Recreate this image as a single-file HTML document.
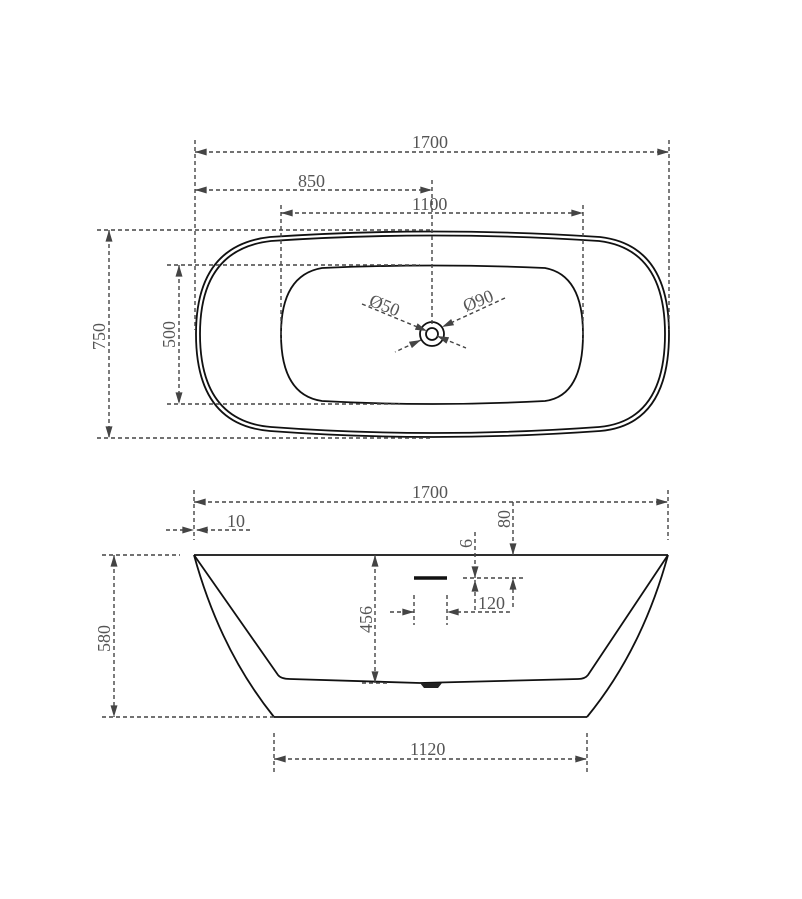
<!DOCTYPE html>
<html><head><meta charset="utf-8"><style>
html,body{margin:0;padding:0;background:#fff}
svg{display:block}
text{font-family:"Liberation Serif",serif;font-size:18px;fill:#555}
.d{stroke:#444;stroke-width:1.4;stroke-dasharray:4,3;fill:none}
.o{stroke:#111;stroke-width:1.8;fill:none}
</style></head><body>
<svg width="802" height="899" viewBox="0 0 802 899" xmlns="http://www.w3.org/2000/svg">
<defs>
<marker id="a" viewBox="0 0 10 6" refX="10" refY="3" markerWidth="16" markerHeight="7" markerUnits="userSpaceOnUse" orient="auto-start-reverse"><path d="M0,0L10,3L0,6Z" fill="#444"/></marker>
</defs>
<!-- TOP VIEW -->
<path class="o" d="M270,237 Q432,226 600,237 Q669,245 669,334 Q669,425 600,431 Q432,443 270,431 Q196,425 196,334 Q196,245 270,237Z"/>
<path class="o" stroke-width="1.2" d="M271,241 Q432,230 599,241 Q665,249 665,334 Q665,421 599,427 Q432,439 271,427 Q200,421 200,334 Q200,249 271,241Z"/>
<path class="o" stroke-width="1.5" d="M322,268 Q432,263 545,268 Q583,275 583,334 Q583,396 545,401 Q432,407 322,401 Q281,395 281,334 Q281,275 322,268Z"/>
<circle cx="432" cy="334" r="12" class="o"/>
<circle cx="432" cy="334" r="6" class="o" stroke-width="1.2"/>
<line class="d" x1="195" y1="140" x2="195" y2="330"/>
<line class="d" x1="669" y1="140" x2="669" y2="330"/>
<line class="d" x1="195" y1="152" x2="669" y2="152" marker-start="url(#a)" marker-end="url(#a)"/>
<text x="412" y="148">1700</text>
<line class="d" x1="432" y1="180" x2="432" y2="325"/>
<line class="d" x1="195" y1="190" x2="432" y2="190" marker-start="url(#a)" marker-end="url(#a)"/>
<text x="298" y="187">850</text>
<line class="d" x1="281" y1="205" x2="281" y2="340"/>
<line class="d" x1="583" y1="205" x2="583" y2="340"/>
<line class="d" x1="281" y1="213" x2="583" y2="213" marker-start="url(#a)" marker-end="url(#a)"/>
<text x="412" y="210">1100</text>
<line class="d" x1="97" y1="230" x2="432" y2="230"/>
<line class="d" x1="97" y1="438" x2="430" y2="438"/>
<line class="d" x1="109" y1="230" x2="109" y2="438" marker-start="url(#a)" marker-end="url(#a)"/>
<text transform="translate(105,350) rotate(-90)">750</text>
<line class="d" x1="167" y1="265" x2="420" y2="265"/>
<line class="d" x1="167" y1="404" x2="400" y2="404"/>
<line class="d" x1="179" y1="265" x2="179" y2="404" marker-start="url(#a)" marker-end="url(#a)"/>
<text transform="translate(175,348) rotate(-90)">500</text>
<line class="d" x1="362" y1="304" x2="427" y2="331" marker-end="url(#a)"/>
<line class="d" x1="437" y1="336" x2="466" y2="348" marker-start="url(#a)"/>
<line class="d" x1="505" y1="298" x2="442" y2="327" marker-end="url(#a)"/>
<line class="d" x1="421" y1="340" x2="395" y2="352" marker-start="url(#a)"/>
<text transform="translate(368,305) rotate(22)">Ø50</text>
<text transform="translate(466,312) rotate(-22)">Ø90</text>
<!-- SIDE VIEW -->
<line class="o" x1="194" y1="555" x2="668" y2="555"/>
<line class="o" x1="274" y1="717" x2="587" y2="717"/>
<path class="o" d="M194,555 Q220,650 274,717"/>
<path class="o" d="M668,555 Q642,650 587,717"/>
<path class="o" d="M194,555 L278,675 Q281,679 290,679 L420,683 L578,679 Q585,679 588,675 L668,555"/>
<path d="M420,683 L442,683 L438,688 L424,688Z" fill="#222"/>
<line x1="414" y1="578" x2="447" y2="578" stroke="#111" stroke-width="3.5"/>
<line class="d" x1="194" y1="490" x2="194" y2="540"/>
<line class="d" x1="668" y1="490" x2="668" y2="540"/>
<line class="d" x1="194" y1="502" x2="668" y2="502" marker-start="url(#a)" marker-end="url(#a)"/>
<text x="412" y="498">1700</text>
<line class="d" x1="166" y1="530" x2="194" y2="530" marker-end="url(#a)"/>
<line class="d" x1="250" y1="530" x2="196" y2="530" marker-end="url(#a)"/>
<text x="227" y="527">10</text>
<line class="d" x1="102" y1="555" x2="180" y2="555"/>
<line class="d" x1="102" y1="717" x2="274" y2="717"/>
<line class="d" x1="114" y1="555" x2="114" y2="717" marker-start="url(#a)" marker-end="url(#a)"/>
<text transform="translate(110,652) rotate(-90)">580</text>
<line class="d" x1="375" y1="555" x2="375" y2="683" marker-start="url(#a)" marker-end="url(#a)"/>
<line class="d" x1="362" y1="683" x2="390" y2="683"/>
<text transform="translate(372,633) rotate(-90)">456</text>
<line class="d" x1="475" y1="532" x2="475" y2="578" marker-end="url(#a)"/>
<line class="d" x1="475" y1="610" x2="475" y2="580" marker-end="url(#a)"/>
<text transform="translate(472,548) rotate(-90)">6</text>
<line class="d" x1="513" y1="502" x2="513" y2="555" marker-end="url(#a)"/>
<line class="d" x1="513" y1="607" x2="513" y2="578" marker-end="url(#a)"/>
<text transform="translate(510,528) rotate(-90)">80</text>
<line class="d" x1="463" y1="578" x2="523" y2="578"/>
<line class="d" x1="414" y1="595" x2="414" y2="625"/>
<line class="d" x1="447" y1="595" x2="447" y2="625"/>
<line class="d" x1="390" y1="612" x2="414" y2="612" marker-end="url(#a)"/>
<line class="d" x1="510" y1="612" x2="447" y2="612" marker-end="url(#a)"/>
<text x="478" y="609">120</text>
<line class="d" x1="274" y1="733" x2="274" y2="772"/>
<line class="d" x1="587" y1="733" x2="587" y2="772"/>
<line class="d" x1="274" y1="759" x2="587" y2="759" marker-start="url(#a)" marker-end="url(#a)"/>
<text x="410" y="755">1120</text>
</svg>
</body></html>
